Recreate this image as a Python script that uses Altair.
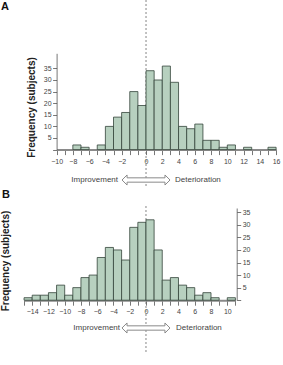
import altair as alt
import pandas as pd

# ---------------- data ----------------
# Panel A: histogram bins (left edge on the drawn axis, width 1) and counts
a_bin_start = [-9, -8, -7, -6, -5, -4, -3, -2, -1, 0, 1, 2, 3, 4, 5, 6, 7, 8, 9, 10, 11, 12, 13, 14, 15]
a_count = [2, 1, 0, 2, 10, 14, 16, 25, 19, 34, 30, 36, 29, 10, 9, 11, 4, 4, 1, 2, 0, 1, 0, 0, 1]

# Panel B
b_bin_start = [-15, -14, -13, -12, -11, -10, -9, -8, -7, -6, -5, -4, -3, -2, -1, 0,
               1, 2, 3, 4, 5, 6, 7, 8, 9, 10]
b_count = [1, 2, 2, 3, 6, 2, 5, 9, 10, 17, 21, 20, 16, 29, 31, 32,
           20, 8, 9, 6, 5, 2, 3, 1, 0, 1]

# tick positions and their labels (as printed in the figure)
a_tick_values = list(range(-11, 17))
a_tick_positions = [-11, -9, -7, -5, -3, 0, 2, 4, 6, 8, 10, 12, 14, 16]
a_tick_texts = ["−10", "−8", "−6", "−4", "−2", "0", "2", "4", "6", "8", "10", "12", "14", "16"]

b_tick_values = list(range(-15, 12))
b_tick_positions = [-14, -12, -10, -8, -6, -4, -2, 0, 2, 4, 6, 8, 10]
b_tick_texts = ["−14", "−12", "−10", "−8", "−6", "−4", "−2", "0", "2", "4", "6", "8", "10"]

y_tick_values = [0, 5, 10, 15, 20, 25, 30, 35]
y_tick_positions = [5, 10, 15, 20, 25, 30, 35]
y_tick_texts = ["5", "10", "15", "20", "25", "30", "35"]

panel_letters = ["A", "B"]
y_title = "Frequency (subjects)"
left_text = "Improvement"
right_text = "Deterioration"

# ---------------- styling ----------------
FONT = "Liberation Sans"
BAR_FILL = "#b7d0bf"
BAR_STROKE = "#33443a"
LABEL_COLOR = "#444444"
ARROW_PATH = ("M-1,0 L-0.79,-0.21 L-0.79,-0.09 L0.79,-0.09 L0.79,-0.21 L1,0 "
              "L0.79,0.21 L0.79,0.09 L-0.79,0.09 L-0.79,0.21 Z")


def label_expr(positions, texts):
    expr = " : ".join(f"datum.value == {p} ? '{t}'" for p, t in zip(positions, texts))
    return expr + " : ''"


XA = alt.Scale(domain=[-11, 16], range=[56.6, 276.1], nice=False, zero=False)
YA = alt.Scale(domain=[0, 41.5], range=[149.6, 53.3], nice=False, zero=False)
XB = alt.Scale(domain=[-15, 11], range=[24.05, 235.4], nice=False, zero=False)
YB = alt.Scale(domain=[0, 36.7], range=[300.2, 208.0], nice=False, zero=False)

W, H = 283, 365

df_a = pd.DataFrame({"start": a_bin_start, "count": a_count})
df_b = pd.DataFrame({"start": b_bin_start, "count": b_count})


def x_axis(values, positions, texts, y_base, pad):
    return alt.Axis(
        orient="bottom", offset=y_base - H, values=values,
        labelExpr=label_expr(positions, texts), title=None, grid=False,
        labelFont=FONT, labelFontSize=7, labelColor=LABEL_COLOR,
        labelPadding=pad, labelFlush=False, labelOverlap=False, labelBound=False,
        tickSize=5, tickColor="#555555", tickWidth=0.8,
        domainColor="#8a8a8a", domainWidth=2,
    )


def y_axis(orient, offset):
    return alt.Axis(
        orient=orient, offset=offset, values=y_tick_values,
        labelExpr=label_expr(y_tick_positions, y_tick_texts), title=None, grid=False,
        labelFont=FONT, labelFontSize=7, labelColor=LABEL_COLOR,
        labelPadding=1.5, labelFlush=False, labelOverlap=False, labelBound=False,
        tickSize=4, tickColor="#555555", tickWidth=0.8,
        domainColor="#555555", domainWidth=0.8,
    )


def bars(df, xs, ys, xax, yax):
    return alt.Chart(df).transform_filter("datum.count > 0").transform_calculate(
        end="datum.start + 1"
    ).mark_rect(fill=BAR_FILL, stroke=BAR_STROKE, strokeWidth=0.8).encode(
        x=alt.X("start:Q", scale=xs, axis=xax),
        x2="end:Q",
        y=alt.Y("count:Q", scale=ys, axis=yax),
        y2=alt.datum(0),
    )


def dashed(xs, y_top, y_bottom):
    return alt.Chart().mark_rule(color="#666666", strokeDash=[2, 2], strokeWidth=0.8).encode(
        x=alt.X(datum=0, scale=xs, axis=None),
        y=alt.value(y_top),
        y2=alt.value(y_bottom),
    )


def arrow(xs, y):
    return alt.Chart().mark_point(
        shape=ARROW_PATH, size=2304, filled=True, fill="white", opacity=1,
        stroke="#8a8a8a", strokeWidth=1,
    ).encode(x=alt.X(datum=0, scale=xs, axis=None), y=alt.value(y))


def text(label, x, y, size=8, bold=False, align="center", angle=0, color=LABEL_COLOR):
    return alt.Chart().mark_text(
        text=label, font=FONT, fontSize=size, fontWeight="bold" if bold else "normal",
        align=align, baseline="middle", angle=angle, color=color,
    ).encode(x=alt.value(x), y=alt.value(y))


layers = [
    dashed(XA, 0, 188),
    bars(df_a, XA, YA,
         x_axis(a_tick_values, a_tick_positions, a_tick_texts, 149.6, 3),
         y_axis("left", -56.6)),
    arrow(XA, 180),
    dashed(XB, 206, 353),
    bars(df_b, XB, YB,
         x_axis(b_tick_values, b_tick_positions, b_tick_texts, 300.2, 2.5),
         y_axis("right", 236.7 - W)),
    arrow(XB, 328),
    text(panel_letters[0], 5, 7, size=11, bold=True, color="#111111"),
    text(panel_letters[1], 6, 195, size=11, bold=True, color="#111111"),
    text(y_title, 31.7, 107.5, size=10, bold=True, angle=270, color="#222222"),
    text(y_title, 6, 261, size=10, bold=True, angle=270, color="#222222"),
    text(left_text, 118, 180, align="right"),
    text(right_text, 175, 180, align="left"),
    text(left_text, 120, 328, align="right"),
    text(right_text, 176, 328, align="left"),
]

chart = alt.layer(*layers).resolve_scale(x="independent", y="independent").properties(
    width=W, height=H, autosize=alt.AutoSizeParams(type="none"), padding=0,
    background="white",
).configure_view(stroke=None)

chart.save("out.html", embed_options={"renderer": "svg", "actions": False})
